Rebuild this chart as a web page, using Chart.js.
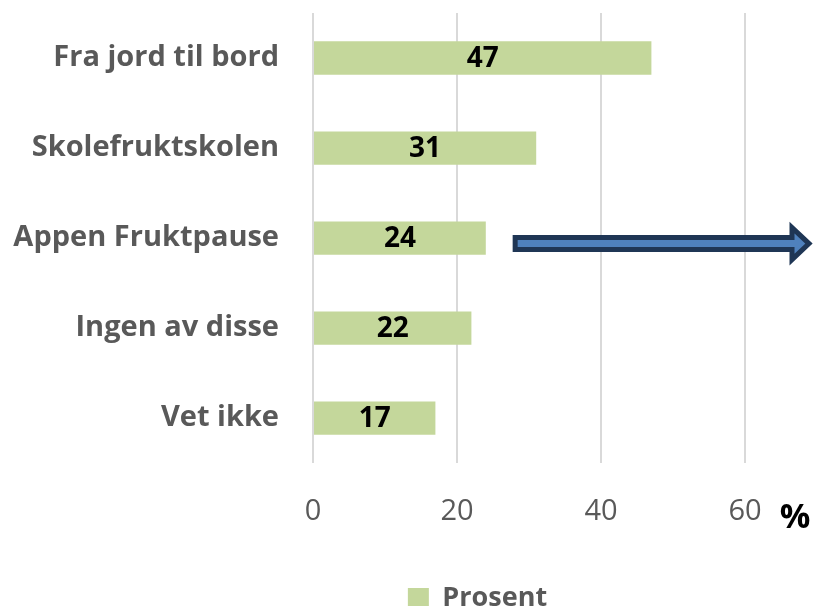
<!DOCTYPE html>
<html>
<head>
<meta charset="utf-8">
<script src="https://cdn.jsdelivr.net/npm/chart.js@4"></script>
<style>
	html, body { margin: 0; padding: 0; background: #fff; }
	#wrap { width: 823px; height: 606px; }
</style>
</head>
<body>
<div id="wrap"><canvas id="c"></canvas></div>
<script>
var categories = ["Fra jord til bord", "Skolefruktskolen", "Appen Fruktpause", "Ingen av disse", "Vet ikke"];
var prosent = [47, 31, 24, 22, 17];
var xTicks = [0, 20, 40, 60];
var seriesName = "Prosent";
var unitLabel = "%";
var arrowRow = 2;        // row the arrow points out from
var arrowStart = 27.8;   // value where the arrow tail sits

var FONT = "'Open Sans', sans-serif";

// value labels in the middle of each bar
var barLabels = {
	id: 'barLabels',
	afterDatasetsDraw(chart) {
		var ctx = chart.ctx;
		var meta = chart.getDatasetMeta(0);
		ctx.save();
		ctx.font = "bold 28px " + FONT;
		ctx.fillStyle = "#000";
		ctx.textAlign = "center";
		ctx.textBaseline = "middle";
		meta.data.forEach(function (bar, i) {
			ctx.fillText(prosent[i], (bar.x + bar.base) / 2, bar.y + 1);
		});
		ctx.restore();
	}
};

// legend sits further right than the default centring
var legendShift = {
	id: 'legendShift',
	afterLayout(chart) {
		var lg = chart.legend;
		if (!lg) return;
		lg.left += 105;
		lg.right += 105;
	}
};

// the arrow and the % sign
var extras = {
	id: 'extras',
	afterDraw(chart) {
		var ctx = chart.ctx;
		var xs = chart.scales.x, ys = chart.scales.y;
		var x0 = xs.getPixelForValue(arrowStart) + 2;
		var tip = chart.width - 14;
		var cy = ys.getPixelForValue(arrowRow) + 5.5;
		var headBase = tip - 17;
		ctx.save();
		ctx.beginPath();
		ctx.moveTo(x0, cy - 6);
		ctx.lineTo(headBase, cy - 6);
		ctx.lineTo(headBase, cy - 16);
		ctx.lineTo(tip, cy);
		ctx.lineTo(headBase, cy + 16);
		ctx.lineTo(headBase, cy + 6);
		ctx.lineTo(x0, cy + 6);
		ctx.closePath();
		ctx.lineJoin = "miter";
		ctx.lineWidth = 5;
		ctx.strokeStyle = "#1f3655";
		ctx.fillStyle = "#4f81bd";
		ctx.fill();
		ctx.stroke();

		ctx.font = "bold 34px " + FONT;
		ctx.fillStyle = "#000";
		ctx.textAlign = "center";
		ctx.textBaseline = "middle";
		ctx.fillText(unitLabel, chart.chartArea.right + 50, chart.chartArea.bottom + 55);
		ctx.restore();
	}
};

new Chart(document.getElementById('c'), {
	type: 'bar',
	data: {
		labels: categories,
		datasets: [{
			label: seriesName,
			data: prosent,
			backgroundColor: "#c4d79b",
			borderWidth: 0,
			barPercentage: 0.37,
			categoryPercentage: 1
		}]
	},
	options: {
		indexAxis: 'y',
		responsive: true,
		maintainAspectRatio: false,
		animation: false,
		layout: { padding: { top: 13, right: 78, bottom: -16, left: 0 } },
		scales: {
			x: {
				min: 0,
				max: 60,
				afterBuildTicks(axis) {
					axis.ticks = xTicks.map(function (v) { return { value: v }; });
				},
				grid: { color: "#d9d9d9", lineWidth: 2, drawTicks: false },
				border: { display: false },
				ticks: {
					color: "#595959",
					font: { family: FONT, size: 29 },
					padding: 31
				}
			},
			y: {
				grid: { display: false },
				border: { display: false },
				afterFit(axis) {
					axis.width = 313;
					axis.paddingTop = 0;
					axis.paddingBottom = 0;
				},
				ticks: {
					color: "#595959",
					font: { family: FONT, size: 29, weight: 'bold' },
					padding: 26
				}
			}
		},
		plugins: {
			legend: {
				position: 'bottom',
				labels: {
					color: "#595959",
					font: { family: FONT, size: 27, weight: 'bold' },
					boxWidth: 21,
					boxHeight: 21,
					padding: 25
				}
			},
			tooltip: { enabled: false }
		}
	},
	plugins: [barLabels, legendShift, extras]
});
</script>
</body>
</html>
